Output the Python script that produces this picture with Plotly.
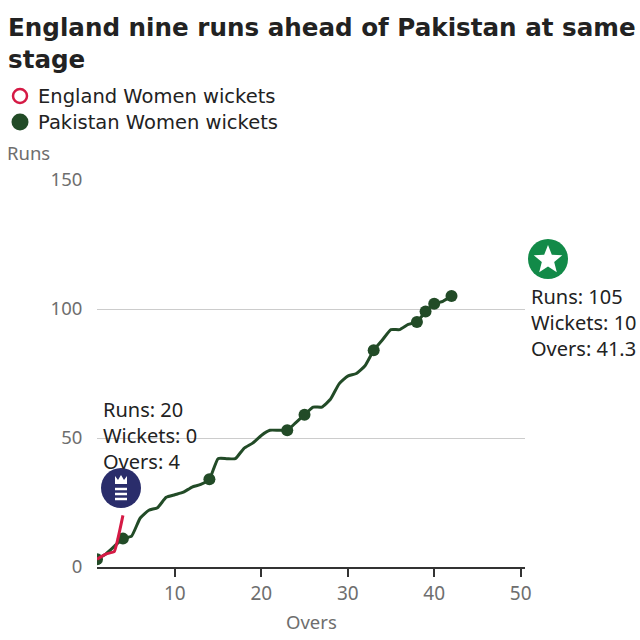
import math
import plotly.graph_objects as go

# ---- data ----
eng_overs = [1, 2, 3, 4]
eng_runs = [3, 5, 6, 20]
eng_wkt_overs = []
eng_wkt_runs = []

pak_overs = list(range(1, 43))
pak_runs = [3, 5, 8, 11, 12, 19, 22, 23, 27, 28, 29, 31, 32, 34, 42, 42, 42, 46, 48, 51,
            53, 53, 53, 56, 59, 62, 62, 65, 71, 74, 75, 78, 84, 88, 92, 92, 94, 95, 99, 102,
            103, 105]
pak_wkt_overs = [1, 4, 14, 23, 25, 33, 38, 39, 40, 42]
pak_wkt_runs = [3, 11, 34, 53, 59, 84, 95, 99, 102, 105]

y_ticks = [0, 50, 100, 150]
x_ticks = [10, 20, 30, 40, 50]

title_text = "<b>England nine runs ahead of Pakistan at same<br>stage</b>"
legend_names = ["England Women wickets", "Pakistan Women wickets"]
eng_label = "Runs: 20<br>Wickets: 0<br>Overs: 4"
pak_label = "Runs: 105<br>Wickets: 10<br>Overs: 41.3"

RED = "#d51a45"
GREEN = "#224b27"
FONT = "Noto Sans"

W, H = 640, 640
L, R, T, B = 97, 115, 180, 73
pw, ph = W - L - R, H - T - B
XR = [1, 50.5]
YR = [0, 150]


def px_to_paper(px, py):
    return (px - L) / pw, (H - B - py) / ph


fig = go.Figure()

fig.add_trace(go.Scatter(x=pak_overs, y=pak_runs, mode="lines",
                         line=dict(color=GREEN, width=3, shape="spline", smoothing=0.45),
                         showlegend=False, hoverinfo="skip"))
fig.add_trace(go.Scatter(x=pak_wkt_overs, y=pak_wkt_runs, mode="markers",
                         marker=dict(color=GREEN, size=12),
                         showlegend=False))
fig.add_trace(go.Scatter(x=eng_overs, y=eng_runs, mode="lines",
                         line=dict(color=RED, width=3, shape="spline", smoothing=0.3),
                         showlegend=False, hoverinfo="skip"))
fig.add_trace(go.Scatter(x=eng_wkt_overs, y=eng_wkt_runs, mode="markers",
                         marker=dict(color="white", size=12, line=dict(color=RED, width=2.5)),
                         showlegend=False))

shapes = []
annotations = []

# title
tx, ty = px_to_paper(6, 11)
annotations.append(dict(xref="paper", yref="paper", x=tx, y=ty, xanchor="left", yanchor="top",
                        text=title_text, showarrow=False, align="left",
                        font=dict(color="#222222", size=24.6, family="DejaVu Sans")))

# manual legend
for i, name in enumerate(legend_names):
    cy = 96 + i * 26
    mx, my = px_to_paper(20, cy)
    if i == 0:
        shapes.append(dict(type="circle", xref="paper", yref="paper", xsizemode="pixel",
                           ysizemode="pixel", xanchor=mx, yanchor=my, x0=-7, x1=7, y0=-7, y1=7,
                           fillcolor="white", line=dict(color=RED, width=2.5)))
    else:
        shapes.append(dict(type="circle", xref="paper", yref="paper", xsizemode="pixel",
                           ysizemode="pixel", xanchor=mx, yanchor=my, x0=-8.5, x1=8.5, y0=-8.5, y1=8.5,
                           fillcolor=GREEN, line=dict(width=0)))
    lx, ly = px_to_paper(36, cy)
    annotations.append(dict(xref="paper", yref="paper", x=lx, y=ly, xanchor="left", yanchor="middle",
                            text=name, showarrow=False,
                            font=dict(color="#222222", size=19.5, family="DejaVu Sans")))

# England logo (navy disc, crown, three lions)
ex, ey = px_to_paper(121, 488)
shapes.append(dict(type="circle", xref="paper", yref="paper", xsizemode="pixel", ysizemode="pixel",
                   xanchor=ex, yanchor=ey, x0=-20, x1=20, y0=-20, y1=20,
                   fillcolor="#2a2d6b", line=dict(width=0)))
for dy in (-1, -6, -11):
    shapes.append(dict(type="line", xref="paper", yref="paper", xsizemode="pixel", ysizemode="pixel",
                       xanchor=ex, yanchor=ey, x0=-6, x1=6, y0=dy, y1=dy,
                       line=dict(color="white", width=2.5)))
shapes.append(dict(type="path", xref="paper", yref="paper", xsizemode="pixel", ysizemode="pixel",
                   xanchor=ex, yanchor=ey,
                   path="M -6 4 L -6 12 L -3 8 L 0 13 L 3 8 L 6 12 L 6 4 Z",
                   fillcolor="white", line=dict(width=0)))

# Pakistan logo (green disc with white star)
qx, qy = px_to_paper(548, 259)
shapes.append(dict(type="circle", xref="paper", yref="paper", xsizemode="pixel", ysizemode="pixel",
                   xanchor=qx, yanchor=qy, x0=-20, x1=20, y0=-20, y1=20,
                   fillcolor="#128a48", line=dict(width=0)))
pts = []
for k in range(10):
    rr = 15 if k % 2 == 0 else 6.5
    ang = math.pi / 2 + k * math.pi / 5
    pts.append((rr * math.cos(ang), rr * math.sin(ang) - 1))
star_path = "M " + " L ".join(f"{x:.2f} {y:.2f}" for x, y in pts) + " Z"
shapes.append(dict(type="path", xref="paper", yref="paper", xsizemode="pixel", ysizemode="pixel",
                   xanchor=qx, yanchor=qy, path=star_path,
                   fillcolor="white", line=dict(width=0)))

# labels
ax_, ay_ = px_to_paper(101, 435)
annotations.append(dict(xref="paper", yref="paper", x=ax_, y=ay_, xanchor="left", yanchor="middle",
                        text=eng_label, showarrow=False, align="left",
                        font=dict(color="#222222", size=20, family=FONT)))
bx_, by_ = px_to_paper(529, 322)
annotations.append(dict(xref="paper", yref="paper", x=bx_, y=by_, xanchor="left", yanchor="middle",
                        text=pak_label, showarrow=False, align="left",
                        font=dict(color="#222222", size=20, family=FONT)))
# axis titles
annotations.append(dict(xref="paper", yref="paper", x=(5 - L) / pw, y=(H - B - 152) / ph,
                        xanchor="left", yanchor="middle", text="Runs", showarrow=False,
                        font=dict(color="#6e6e6e", size=18.5, family=FONT)))
annotations.append(dict(xref="paper", yref="paper", x=(311 - L) / pw, y=(H - B - 621) / ph,
                        xanchor="center", yanchor="middle", text="Overs", showarrow=False,
                        font=dict(color="#6e6e6e", size=18.5, family=FONT)))

fig.update_layout(
    width=W, height=H,
    margin=dict(l=L, r=R, t=T, b=B, autoexpand=False),
    showlegend=False,
    plot_bgcolor="white", paper_bgcolor="white",
    font=dict(family=FONT, color="#222222"),
    shapes=shapes, annotations=annotations,
    xaxis=dict(range=XR, tickvals=x_ticks, showgrid=False, zeroline=False,
               showline=True, linecolor="#333333", linewidth=2,
               ticks="outside", ticklen=8, tickcolor="#333333", tickwidth=1.5,
               tickfont=dict(size=19, color="#6e6e6e", family=FONT), fixedrange=True),
    yaxis=dict(range=YR, tickvals=y_ticks, showgrid=True, gridcolor="#cccccc", gridwidth=1,
               zeroline=False, showline=False, ticks="outside", ticklen=10, tickcolor="rgba(0,0,0,0)",
               tickfont=dict(size=18.5, color="#6e6e6e", family=FONT), fixedrange=True),
)

fig.write_html("out.html", config={"displayModeBar": False},
               post_script="document.body.style.margin='0';")
